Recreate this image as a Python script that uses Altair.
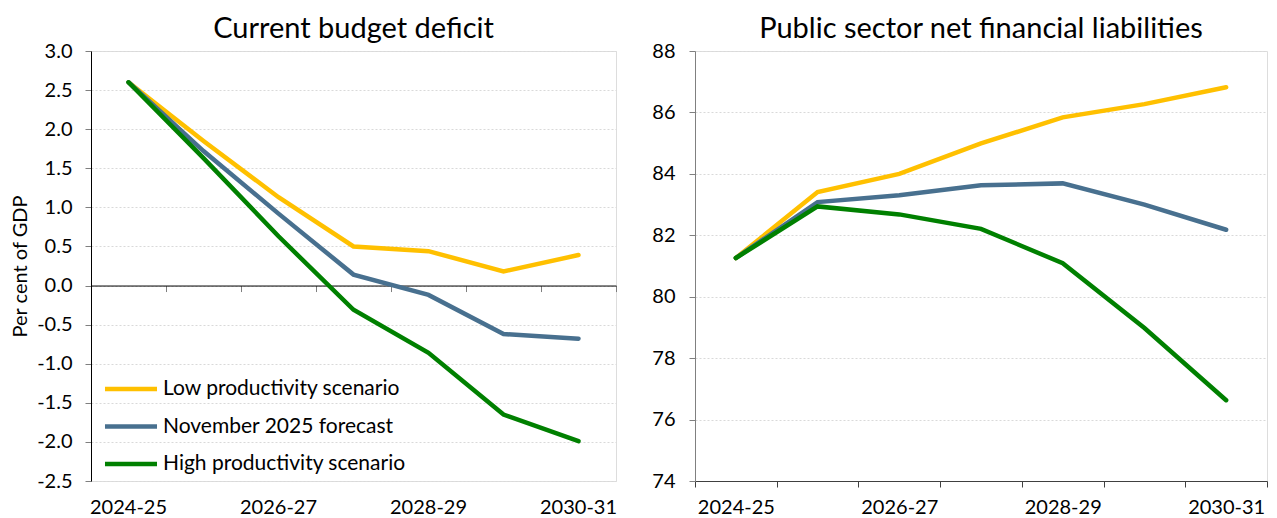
import altair as alt
import pandas as pd

# ---------------- data ----------------
years = ["2024-25", "2025-26", "2026-27", "2027-28", "2028-29", "2029-30", "2030-31"]
shown_years = ["2024-25", "2026-27", "2028-29", "2030-31"]
series = ["Low productivity scenario", "November 2025 forecast", "High productivity scenario"]
colors = ["#FFC000", "#48708F", "#008000"]

cbd_low = [2.6, 1.85, 1.13, 0.50, 0.44, 0.18, 0.39]
cbd_nov = [2.6, 1.72, 0.92, 0.14, -0.12, -0.62, -0.68]
cbd_high = [2.6, 1.63, 0.63, -0.31, -0.86, -1.65, -1.99]
cbd_ticks = [-2.5, -2.0, -1.5, -1.0, -0.5, 0.0, 0.5, 1.0, 1.5, 2.0, 2.5, 3.0]

psnfl_low = [81.26, 83.41, 84.00, 84.99, 85.84, 86.27, 86.82]
psnfl_nov = [81.26, 83.08, 83.30, 83.63, 83.69, 83.00, 82.18]
psnfl_high = [81.26, 82.94, 82.68, 82.21, 81.09, 78.98, 76.63]
psnfl_ticks = [74, 76, 78, 80, 82, 84, 86, 88]

left_title = "Current budget deficit"
right_title = "Public sector net financial liabilities"
y_title = "Per cent of GDP"


def make_df(vals_list):
    rows = []
    for s, vals in zip(series, vals_list):
        for yr, v in zip(years, vals):
            rows.append({"year": yr, "series": s, "value": v})
    return pd.DataFrame(rows)


df_left = make_df([cbd_low, cbd_nov, cbd_high])
df_right = make_df([psnfl_low, psnfl_nov, psnfl_high])
df_years = pd.DataFrame({"year": years})

FONT = "Lato"
W_L, W_R, H = 525, 572, 430
TICK_FS = 20
label_expr = "indexof([" + ",".join("'" + y + "'" for y in shown_years) + "], datum.value) >= 0 ? datum.label : ''"
minus_expr = "replace(datum.label, '\u2212', '-')"

xscale = alt.Scale(type="band", paddingInner=0, paddingOuter=0)
color_enc_kwargs = dict(sort=series, scale=alt.Scale(domain=series, range=colors))

grid_kw = dict(grid=True, gridColor="#D9D9D9", gridDash=[2, 2], gridWidth=1)
title_kw = dict(font=FONT, fontSize=29, fontWeight="normal", color="#000000",
                anchor="middle", frame="group", offset=-3)

# ---------------- left panel ----------------
left_lines = alt.Chart(df_left).mark_line(strokeWidth=4.5, strokeCap="round").encode(
    x=alt.X("year:N", sort=years, scale=xscale, bandPosition=0.5, title=None,
            axis=alt.Axis(domain=False, ticks=False, grid=False, labelExpr=label_expr,
                          labelAngle=0, labelPadding=16, labelFontSize=TICK_FS, labelColor="#000000",
                          labelFont=FONT, labelOverlap=False)),
    y=alt.Y("value:Q", scale=alt.Scale(domain=[cbd_ticks[0], cbd_ticks[-1]], nice=False, zero=False),
            axis=alt.Axis(values=cbd_ticks, format=".1f", labelExpr=minus_expr, title=y_title,
                          titleFont=FONT, titleFontSize=20, titleFontWeight="normal",
                          titleColor="#000000", titlePadding=6, labelFont=FONT,
                          labelFontSize=TICK_FS, labelColor="#000000", labelPadding=13,
                          labelOverlap=False, labelSeparation=0, domainColor="#000000",
                          tickColor="#7F7F7F", tickSize=6, **grid_kw)),
    color=alt.Color("series:N", title=None,
                    legend=alt.Legend(orient="none", legendX=27, legendY=325,
                                      symbolType="M-2.5,0H2.5", symbolSize=433,
                                      symbolStrokeWidth=4.5, labelFont=FONT, labelFontSize=21,
                                      labelColor="#000000", labelOffset=19, rowPadding=14.5,
                                      labelLimit=400),
                    **color_enc_kwargs),
)

zero_offset = -H * (0 - cbd_ticks[0]) / (cbd_ticks[-1] - cbd_ticks[0])
zero_axis = alt.Chart(df_years).mark_point(opacity=0).encode(
    x=alt.X("year:N", sort=years, scale=xscale, bandPosition=0.5, title=None,
            axis=alt.Axis(orient="bottom", offset=zero_offset, domain=True, domainColor="#000000",
                          domainWidth=1, ticks=True, tickBand="extent", tickColor="#7F7F7F",
                          tickSize=6, labels=False, grid=False)),
)

left = alt.layer(left_lines, zero_axis).resolve_axis(x="independent").properties(
    width=W_L, height=H, title=alt.TitleParams(left_title, **title_kw),
)

# ---------------- right panel ----------------
right = alt.Chart(df_right).mark_line(strokeWidth=4.5, strokeCap="round").encode(
    x=alt.X("year:N", sort=years, scale=xscale, bandPosition=0.5, title=None,
            axis=alt.Axis(domain=True, domainColor="#404040", ticks=True, tickBand="extent",
                          tickColor="#404040", tickSize=6, grid=False, labelExpr=label_expr,
                          labelAngle=0, labelPadding=10, labelFontSize=TICK_FS, labelColor="#000000",
                          labelFont=FONT, labelOverlap=False)),
    y=alt.Y("value:Q", scale=alt.Scale(domain=[psnfl_ticks[0], psnfl_ticks[-1]], nice=False, zero=False),
            axis=alt.Axis(values=psnfl_ticks, format="d", title=None, labelFont=FONT,
                          labelFontSize=TICK_FS, labelColor="#000000", labelPadding=14,
                          labelOverlap=False, domainColor="#808080", tickColor="#808080",
                          tickSize=6, **grid_kw)),
    color=alt.Color("series:N", legend=None, **color_enc_kwargs),
).properties(
    width=W_R, height=H, title=alt.TitleParams(right_title, **title_kw),
)

chart = alt.hconcat(left, right, spacing=33).resolve_legend(color="independent").properties(
    padding={"left": 2, "top": 6, "right": 0, "bottom": 0}
).configure_view(stroke=None).configure(background="white")

chart.save("out.html", embed_options={"renderer": "svg", "actions": False})
